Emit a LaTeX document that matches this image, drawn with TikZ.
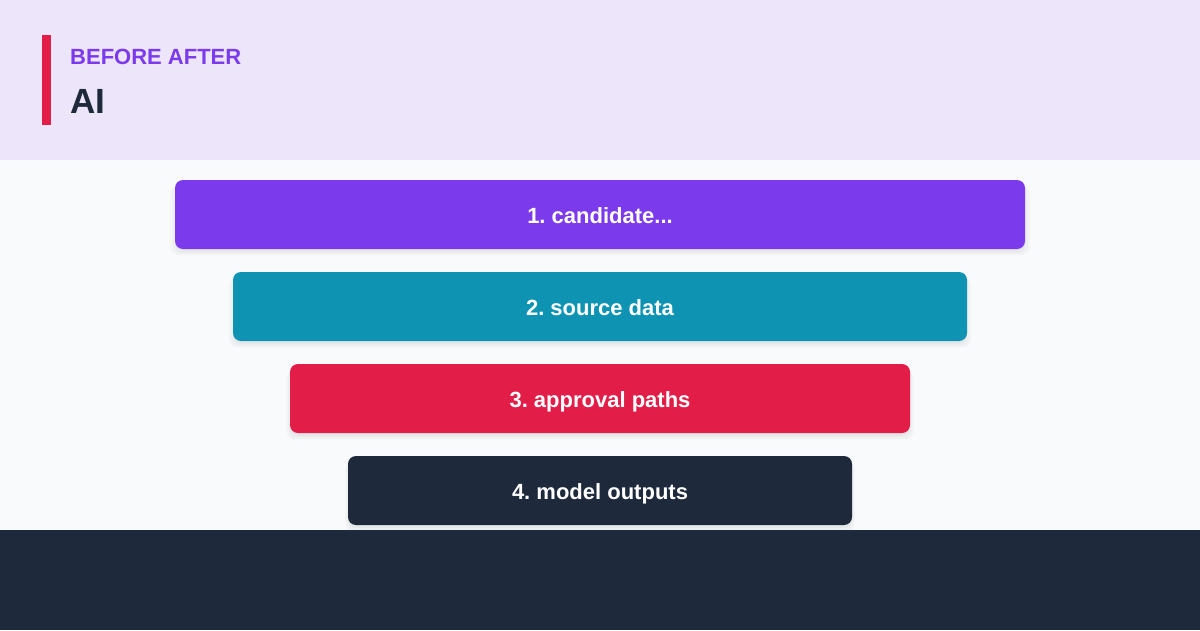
\documentclass[tikz,border=0pt]{standalone}
\usepackage{fontspec}
\setmainfont{Liberation Sans}
\usetikzlibrary{calc, shadows}

\definecolor{headbg}{HTML}{EDE5FA}
\definecolor{bodybg}{HTML}{F8FAFC}
\definecolor{slate}{HTML}{1E293B}
\definecolor{violet}{HTML}{7C3AED}
\definecolor{teal}{HTML}{0E93B3}
\definecolor{rose}{HTML}{E11D48}

\tikzset{
  stage/.style={rounded corners=8pt, minimum height=69pt, inner sep=0pt,
    text=white, font=\fontsize{22}{26}\selectfont\bfseries,
    text height=17pt, text depth=0pt,
    drop shadow={shadow xshift=0pt, shadow yshift=-6pt, shadow scale=1.012, opacity=0.02, fill=black},
    drop shadow={shadow xshift=0pt, shadow yshift=-5pt, shadow scale=1.006, opacity=0.025, fill=black},
    drop shadow={shadow xshift=0pt, shadow yshift=-3pt, opacity=0.03, fill=black}},
}

\begin{document}
\frenchspacing
\begin{tikzpicture}[x=1pt, y=-1pt]
    \useasboundingbox (0,0) rectangle (1200,630);

    % bands
    \fill[headbg] (0,0) rectangle (1200,160);
    \fill[bodybg] (0,160) rectangle (1200,530);

    % title
    \fill[rose] (42,35) rectangle (51,125);
    \node[anchor=base west, inner sep=0pt, text=violet, font=\fontsize{22}{26}\selectfont\bfseries] (kicker) at (70,64) {BEFORE AFTER};
    \node[anchor=base west, inner sep=0pt, text=slate, font=\fontsize{35}{42}\selectfont\bfseries] (title) at (70,113) {AI};

    % funnel stages
    \node[stage, fill=violet, minimum width=850pt] (s1) at (600,214.5) {1. candidate...};
    \node[stage, fill=teal, minimum width=734pt] (s2) at (600,306.5) {2. source data};
    \node[stage, fill=rose, minimum width=620pt] (s3) at (600,398.5) {3. approval paths};
    \node[stage, fill=slate, minimum width=504pt] (s4) at (600,490.5) {4. model outputs};

    \fill[slate] (0,530) rectangle (1200,630);

  \end{tikzpicture}
\end{document}
